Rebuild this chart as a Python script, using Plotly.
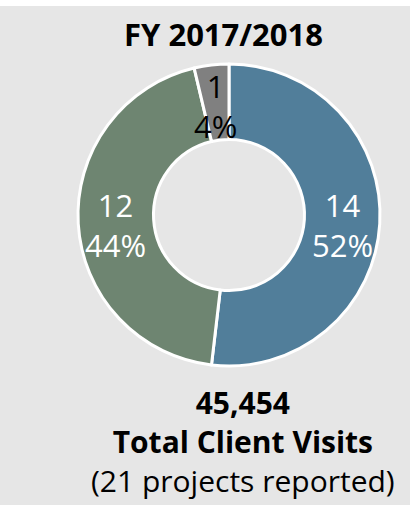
import math
import plotly.graph_objects as go

# ---- data ----
categories = ["Category A", "Category B", "Category C"]
values = [14, 12, 1]
slice_colors = ["#517e9a", "#6e8571", "#808080"]
label_colors = ["white", "white", "black"]
title_text = "FY 2017/2018"
total_visits = "45,454"
total_label = "Total Client Visits"
projects_note = "(21 projects reported)"

W, H = 410, 505
FONT = "Open Sans"
BG = "#e6e6e6"
FS = 31
HOLE = 0.5

# pie geometry in pixels -> paper coords
cx, cy, R = 229, 215, 151

fig = go.Figure(
    go.Pie(
        labels=categories,
        values=values,
        sort=False,
        direction="clockwise",
        rotation=0,
        hole=HOLE,
        marker=dict(colors=slice_colors, line=dict(color="white", width=3)),
        textinfo="none",
        showlegend=False,
        hoverinfo="label+value+percent",
        domain=dict(
            x=[(cx - R) / W, (cx + R) / W],
            y=[1 - (cy + R) / H, 1 - (cy - R) / H],
        ),
    )
)


def ann(text, xpx, ypx, color="black", size=FS):
    return dict(text=text,
                x=xpx / W, y=1 - ypx / H, align="center",
                xref="paper", yref="paper", xanchor="center", yanchor="middle",
                showarrow=False, font=dict(family=FONT, size=size, color=color))


# slice labels placed at each slice's mid-angle (derived from the values)
total = sum(values)
r_lab = R * (1 + HOLE) / 2
slice_anns = []
cum = 0
for v, col in zip(values, label_colors):
    mid = (cum + v / 2) / total * 2 * math.pi
    cum += v
    lx = cx + r_lab * math.sin(mid)
    ly = cy - r_lab * math.cos(mid) + 3
    pct = round(100 * v / total)
    slice_anns.append(ann(f"{v}<br>{pct}%", lx, ly, color=col))

fig.update_layout(
    width=W,
    height=H,
    margin=dict(l=0, r=0, t=0, b=0),
    paper_bgcolor=BG,
    plot_bgcolor=BG,
    font=dict(family=FONT, color="black"),
    shapes=[
        dict(type="rect", xref="paper", yref="paper", x0=0, x1=1,
             y0=1 - 6 / H, y1=1, fillcolor="white", line=dict(width=0), layer="above")
    ],
    annotations=slice_anns + [
        ann(f"<b>{title_text}</b>", 223.5, 34),
        ann(f"<b>{total_visits}</b><br><b>{total_label}</b><br>{projects_note}",
            243, 441, size=30),
    ],
)

fig.write_html("out.html",
               config={"displayModeBar": False},
               post_script="document.body.style.margin='0px';document.body.style.background='#e6e6e6';")
